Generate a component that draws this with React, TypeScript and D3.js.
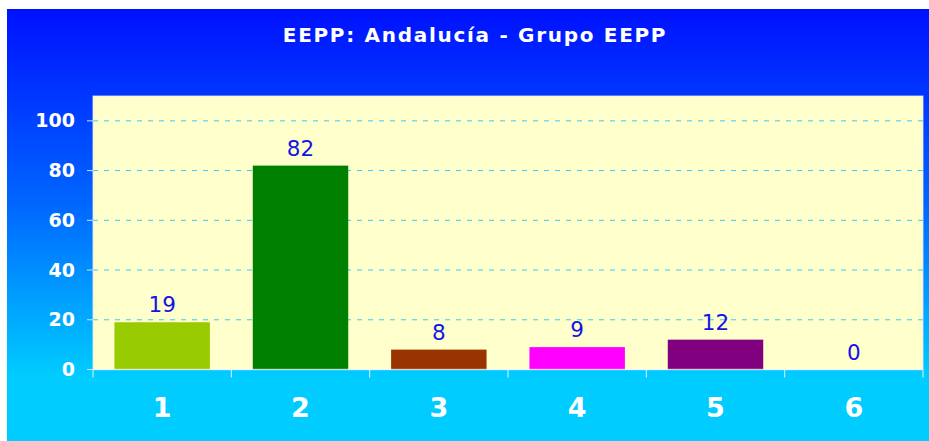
import React from 'react';
import * as d3 from 'd3';

// values
const categories = ['1', '2', '3', '4', '5', '6'];
const values = [19, 82, 8, 9, 12, 0];
const barColors = ['#99CC00', '#008000', '#993300', '#FF00FF', '#800080', '#3366FF'];
const yTicks = [0, 20, 40, 60, 80, 100];
const title = 'EEPP: Andalucía - Grupo EEPP';

const W = 929, H = 441;
const font = "Verdana, 'DejaVu Sans', sans-serif";

const App = () => {
    const plot = { left: 93, right: 923, top: 96, bottom: 369.5 };

    const x = d3.scaleBand<string>()
        .domain(categories)
        .range([plot.left, plot.right])
        .paddingInner(0.31)
        .paddingOuter(0.155);

    const step = (plot.right - plot.left) / categories.length;

    const y = d3.scaleLinear()
        .domain([0, 110])
        .range([plot.bottom, plot.top]);

    return (
        <svg width={W} height={H} style={{ position: 'absolute', left: 0, top: 0 }}>
            <defs>
                <linearGradient id="bg-gradient" x1="0" y1="0" x2="0" y2="1">
                    <stop offset="0%" stopColor="#0010FF" />
                    <stop offset="45%" stopColor="#0066FF" />
                    <stop offset="85%" stopColor="#00CCFF" />
                    <stop offset="100%" stopColor="#00CCFF" />
                </linearGradient>
            </defs>
            <rect x={0} y={0} width={W} height={H} fill="#fff" />
            <rect x={7} y={9} width={W - 7} height={H - 9} fill="url(#bg-gradient)" />

            <text x={475} y={42} textAnchor="middle" fill="#fff" fontFamily={font}
                fontWeight="bold" fontSize={20} letterSpacing={1.7}>{title}</text>

            <rect x={plot.left} y={plot.top} width={plot.right - plot.left}
                height={plot.bottom - plot.top} fill="#FFFFCC" stroke="#E8E8E8" strokeWidth={0.8} />

            {/* gridlines */}
            {yTicks.filter(t => t > 0).map(t => (
                <line key={t} x1={plot.left} x2={plot.right} y1={y(t)} y2={y(t)}
                    stroke="#33CCFF" strokeWidth={1} strokeDasharray="5,6" />
            ))}

            {/* bars */}
            {values.map((v, i) => (
                <rect key={i} x={x(categories[i])} y={y(v)} width={x.bandwidth()}
                    height={plot.bottom - y(v)} fill={barColors[i]} />
            ))}

            {/* value labels */}
            {values.map((v, i) => (
                <text key={i} x={(x(categories[i]) as number) + x.bandwidth() / 2} y={y(v) - 10}
                    textAnchor="middle" fill="#1414E6" fontFamily={font} fontSize={21.5}>{v}</text>
            ))}

            {/* x axis */}
            <line x1={plot.left} x2={plot.right} y1={plot.bottom} y2={plot.bottom}
                stroke="#fff" strokeOpacity={0.6} strokeWidth={1.5} />
            {d3.range(categories.length + 1).map(i => (
                <line key={i} x1={plot.left + i * step} x2={plot.left + i * step}
                    y1={plot.bottom} y2={plot.bottom + 8} stroke="#E6F4FF" strokeWidth={1} />
            ))}
            {categories.map(c => (
                <text key={c} x={(x(c) as number) + x.bandwidth() / 2} y={417}
                    textAnchor="middle" fill="#fff" fontFamily={font} fontWeight="bold"
                    fontSize={27}>{c}</text>
            ))}

            {/* y axis */}
            {yTicks.map(t => (
                <g key={t}>
                    <line x1={plot.left - 6} x2={plot.left} y1={y(t)} y2={y(t)}
                        stroke="#CCE6FF" strokeWidth={1} />
                    <text x={75} y={y(t) + 6.5} textAnchor="end" fill="#fff" fontFamily={font}
                        fontWeight="bold" fontSize={19}>{t}</text>
                </g>
            ))}
        </svg>
    );
};

export default App;
